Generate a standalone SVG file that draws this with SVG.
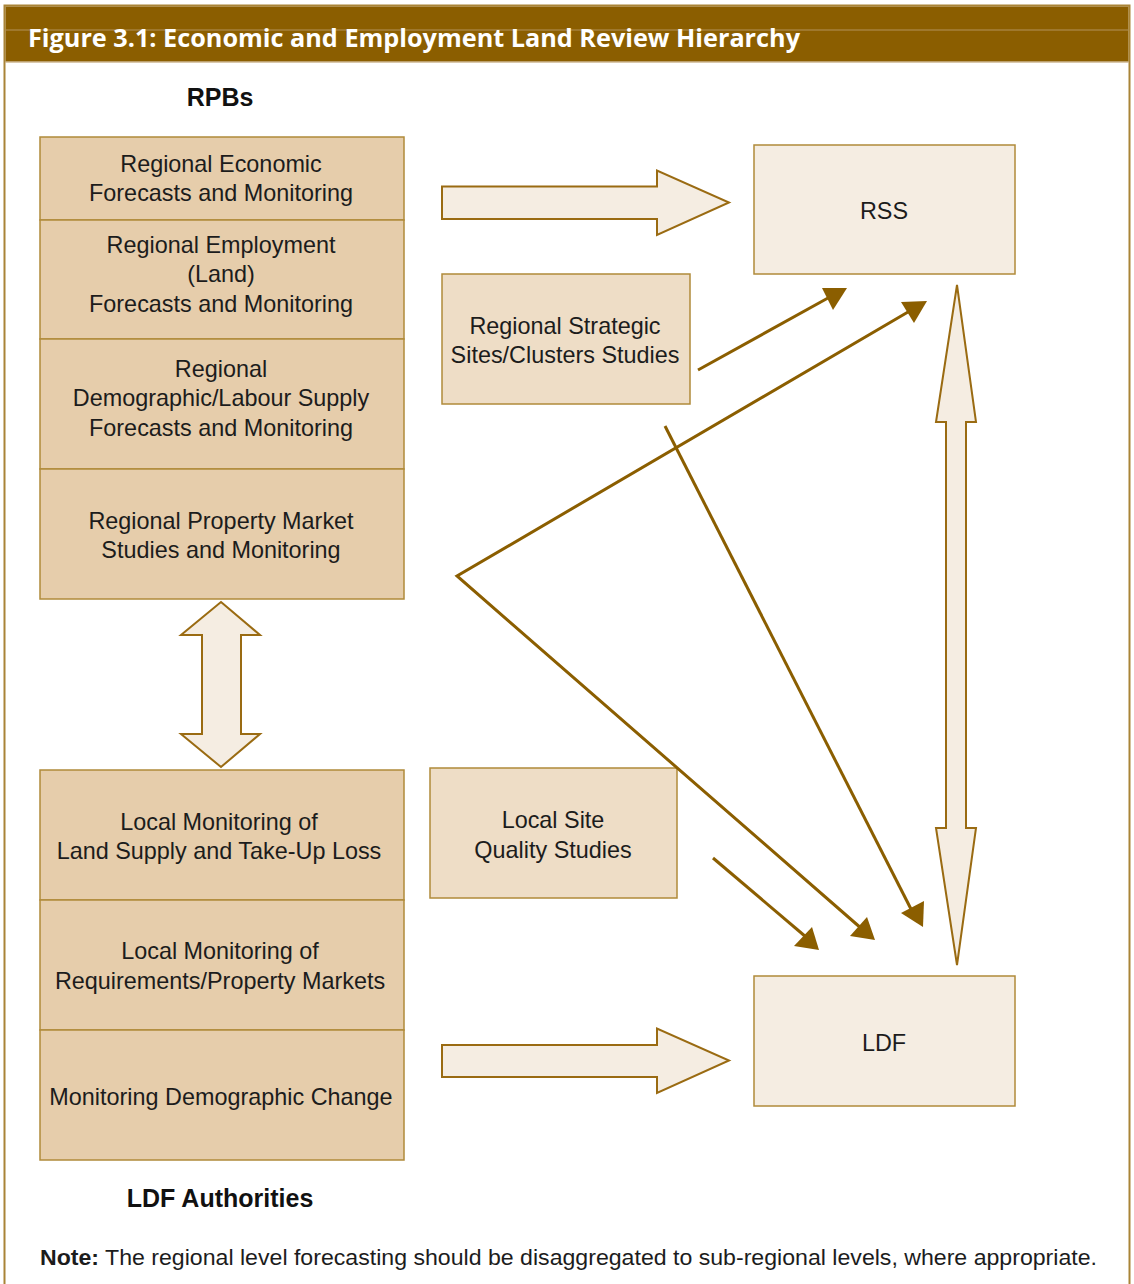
<svg xmlns="http://www.w3.org/2000/svg" width="1134" height="1284" viewBox="0 0 1134 1284">
  <defs>
    <style>
      .frame { fill: #ffffff; stroke: #A98437; stroke-width: 2; }
      .box-dark { fill: #E6CDAB; stroke: #B08A3A; stroke-width: 1.5; }
      .box-mid { fill: #EEDDC6; stroke: #B08A3A; stroke-width: 1.5; }
      .box-light { fill: #F5EDE2; stroke: #B08A3A; stroke-width: 1.5; }
      .block { fill: #F5EDE2; stroke: #9A6B12; stroke-width: 2; stroke-linejoin: miter; }
      .link { fill: none; stroke: #8B5E00; stroke-width: 3; }
      .head { fill: #8B5E00; }
      .label { font-family: "Liberation Sans", Arial, sans-serif; font-size: 23.4px; fill: #1c1c1c; text-anchor: middle; }
      .heading { font-family: "Liberation Sans", Arial, sans-serif; font-size: 25px; font-weight: bold; fill: #111111; text-anchor: middle; }
      .title { font-family: "Open Sans", "Liberation Sans", sans-serif; font-size: 25px; font-weight: bold; fill: #ffffff; }
      .note { font-family: "Liberation Sans", Arial, sans-serif; font-size: 22px; fill: #1c1c1c; }
    </style>
  </defs>

  <!-- frame and title bar -->
  <rect class="frame" x="4.5" y="5.5" width="1125" height="1290"/>
  <rect x="5.5" y="6.5" width="1123" height="55" fill="#8B5E00"/>
  <line x1="5.5" y1="30" x2="1128.5" y2="30" stroke="#B3925A" stroke-width="1"/>
  <line x1="5.5" y1="62" x2="1128.5" y2="62" stroke="#B3925A" stroke-width="1"/>
  <text class="title" x="28" y="47" textLength="772" lengthAdjust="spacingAndGlyphs">Figure 3.1: Economic and Employment Land Review Hierarchy</text>

  <!-- column headings -->
  <text class="heading" x="220" y="106">RPBs</text>
  <text class="heading" x="220" y="1207">LDF Authorities</text>

  <!-- regional stack -->
  <g id="regional-economic">
    <rect class="box-dark" x="40" y="137" width="364" height="83"/>
    <text class="label" x="221" y="172">Regional Economic</text>
    <text class="label" x="221" y="201">Forecasts and Monitoring</text>
  </g>
  <g id="regional-employment">
    <rect class="box-dark" x="40" y="220" width="364" height="119"/>
    <text class="label" x="221" y="253">Regional Employment</text>
    <text class="label" x="221" y="282">(Land)</text>
    <text class="label" x="221" y="312">Forecasts and Monitoring</text>
  </g>
  <g id="regional-demographic">
    <rect class="box-dark" x="40" y="339" width="364" height="130"/>
    <text class="label" x="221" y="377">Regional</text>
    <text class="label" x="221" y="406">Demographic/Labour Supply</text>
    <text class="label" x="221" y="436">Forecasts and Monitoring</text>
  </g>
  <g id="regional-property">
    <rect class="box-dark" x="40" y="469" width="364" height="130"/>
    <text class="label" x="221" y="529">Regional Property Market</text>
    <text class="label" x="221" y="558">Studies and Monitoring</text>
  </g>

  <!-- local stack -->
  <g id="local-land-supply">
    <rect class="box-dark" x="40" y="770" width="364" height="130"/>
    <text class="label" x="219" y="830">Local Monitoring of</text>
    <text class="label" x="219" y="859">Land Supply and Take-Up Loss</text>
  </g>
  <g id="local-requirements">
    <rect class="box-dark" x="40" y="900" width="364" height="130"/>
    <text class="label" x="220" y="959">Local Monitoring of</text>
    <text class="label" x="220" y="989">Requirements/Property Markets</text>
  </g>
  <g id="local-demographic">
    <rect class="box-dark" x="40" y="1030" width="364" height="130"/>
    <text class="label" x="221" y="1105">Monitoring Demographic Change</text>
  </g>

  <!-- studies -->
  <g id="regional-strategic">
    <rect class="box-mid" x="442" y="274" width="248" height="130"/>
    <text class="label" x="565" y="334">Regional Strategic</text>
    <text class="label" x="565" y="363">Sites/Clusters Studies</text>
  </g>
  <g id="local-site">
    <rect class="box-mid" x="430" y="768" width="247" height="130"/>
    <text class="label" x="553" y="828">Local Site</text>
    <text class="label" x="553" y="858">Quality Studies</text>
  </g>

  <!-- plans -->
  <g id="rss">
    <rect class="box-light" x="754" y="145" width="261" height="129"/>
    <text class="label" x="884" y="219">RSS</text>
  </g>
  <g id="ldf">
    <rect class="box-light" x="754" y="976" width="261" height="130"/>
    <text class="label" x="884" y="1051">LDF</text>
  </g>

  <!-- connectors -->
  <g id="connectors">
    <!-- block arrows -->
    <polygon class="block" points="442,186.5 657,186.5 657,170.5 729,202.5 657,235 657,219 442,219"/>
    <polygon class="block" points="442,1045 657,1045 657,1028.5 729,1060.5 657,1093 657,1077 442,1077"/>
    <polygon class="block" points="221,602 260,635 241,635 241,734 260,734 221,767 181,734 202,734 202,635 181,635"/>
    <polygon class="block" points="957,285 976,422 966,422 966,828 976,828 957,965 936,828 946,828 946,422 936,422"/>

    <!-- line arrows -->
    <line class="link" x1="698" y1="370" x2="828" y2="298"/>
    <polygon class="head" points="822,288 847,288 833,310"/>

    <polyline class="link" points="908,312 457,576 862,929"/>
    <polygon class="head" points="901,302 927,301 914,323"/>
    <polygon class="head" points="850,936 867,917 875,940"/>

    <line class="link" x1="665" y1="426" x2="913" y2="913"/>
    <polygon class="head" points="901,913 924,901 923,927"/>

    <line class="link" x1="713" y1="858" x2="806" y2="937"/>
    <polygon class="head" points="794,946 812,927 819,950"/>
  </g>

  <!-- footnote -->
  <text class="note" x="40" y="1265" textLength="1057" lengthAdjust="spacingAndGlyphs"><tspan font-weight="bold">Note:</tspan> The regional level forecasting should be disaggregated to sub-regional levels, where appropriate.</text>
</svg>
